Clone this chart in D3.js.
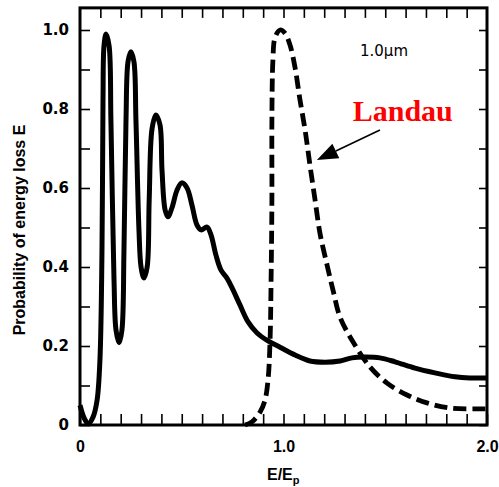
<!DOCTYPE html>
<html><head><meta charset="utf-8">
<script src="https://cdn.jsdelivr.net/npm/d3@7"></script>
<style>body{margin:0;background:#fff}svg{display:block}</style>
</head><body>
<script>
// Solid curve (measured energy-loss distribution, 1.0 µm)
const solidX = [0,0.02,0.04,0.064,0.084,0.098,0.108,0.113,0.118,0.128,0.143,0.152,0.167,0.177,0.192,0.206,0.216,0.226,0.236,0.25,0.265,0.275,0.29,0.30,0.314,0.33,0.34,0.354,0.373,0.393,0.403,0.418,0.432,0.452,0.477,0.50,0.526,0.55,0.575,0.595,0.624,0.644,0.668,0.693,0.722,0.752,0.786,0.826,0.87,0.924,0.983,1.057,1.13,1.204,1.278,1.337,1.40,1.474,1.548,1.646,1.744,1.843,1.916,2.0];
const solidY = [0.05,0.018,0.003,0.02,0.063,0.165,0.44,0.82,0.96,0.99,0.96,0.77,0.37,0.24,0.208,0.24,0.44,0.77,0.92,0.945,0.92,0.77,0.49,0.40,0.372,0.40,0.57,0.75,0.785,0.76,0.645,0.545,0.527,0.55,0.595,0.613,0.60,0.557,0.506,0.494,0.501,0.481,0.43,0.392,0.372,0.342,0.304,0.261,0.233,0.213,0.197,0.177,0.162,0.159,0.162,0.17,0.172,0.17,0.16,0.144,0.132,0.122,0.119,0.119];
// Dashed curve (Landau)
const landauX = [0.811,0.845,0.885,0.909,0.924,0.934,0.939,0.943,0.943,0.948,0.958,0.983,1.007,1.032,1.057,1.081,1.106,1.13,1.155,1.179,1.214,1.243,1.278,1.342,1.425,1.509,1.607,1.705,1.818,1.966,2.0];
const landauY = [0,0.008,0.033,0.063,0.114,0.215,0.367,0.57,0.772,0.924,0.98,1.0,0.992,0.962,0.904,0.823,0.747,0.658,0.57,0.486,0.405,0.342,0.273,0.21,0.147,0.106,0.076,0.056,0.043,0.041,0.041];
const xTicks = [0,0.1,0.2,0.3,0.4,0.5,0.6,0.7,0.8,0.9,1.0,1.1,1.2,1.3,1.4,1.5,1.6,1.7,1.8,1.9,2.0];
const xTickLabels = {"0":"0","1":"1.0","2":"2.0"};
const yTicks = [0,0.1,0.2,0.3,0.4,0.5,0.6,0.7,0.8,0.9,1.0];
const yTickLabels = {"0":"0","0.2":"0.2","0.4":"0.4","0.6":"0.6","0.8":"0.8","1":"1.0"};

const W = 499, H = 487;
const svg = d3.select("body").append("svg").attr("width", W).attr("height", H);
const x = d3.scaleLinear().domain([0, 2]).range([80, 487]);
const y = d3.scaleLinear().domain([0, 1]).range([425, 30]);
const yTop = 1.056;
const font = "'Liberation Sans', Arial, Helvetica, sans-serif";
const wide = "'DejaVu Sans', Verdana, sans-serif";

// axes
const fmtX = v => xTickLabels[String(+v.toFixed(1))] || "";
const fmtY = v => yTickLabels[String(+v.toFixed(1))] || "";
const gB = svg.append("g").attr("transform", `translate(0,${y(0)})`)
  .call(d3.axisBottom(x).tickValues(xTicks).tickSizeInner(-11).tickSizeOuter(0).tickPadding(16).tickFormat(fmtX));
const gL = svg.append("g").attr("transform", `translate(${x(0)},0)`)
  .call(d3.axisLeft(y).tickValues(yTicks).tickSizeInner(-10).tickSizeOuter(0).tickPadding(11).tickFormat(fmtY));
const gT = svg.append("g").attr("transform", `translate(0,${y(yTop)})`)
  .call(d3.axisTop(x).tickValues(xTicks.slice(1, -1)).tickSizeInner(-10).tickSizeOuter(0).tickFormat(""));
const gR = svg.append("g").attr("transform", `translate(${x(2)},0)`)
  .call(d3.axisRight(y).tickValues(yTicks).tickSizeInner(-8).tickSizeOuter(0).tickFormat(""));
[gB, gL, gT, gR].forEach(g => {
  g.select(".domain").remove();
  g.selectAll(".tick line").attr("stroke", "#000").attr("stroke-width", 1.6);
  g.selectAll("text").attr("font-family", font).attr("font-weight", "bold").attr("font-size", 16).attr("fill", "#000");
});
gL.selectAll("text").attr("font-family", wide).attr("font-size", 15);

// frame
svg.append("rect").attr("x", x(0)).attr("y", y(yTop)).attr("width", x(2) - x(0)).attr("height", y(0) - y(yTop))
  .attr("fill", "none").attr("stroke", "#000").attr("stroke-width", 3);

// curves
const line = d3.line().x(d => x(d[0])).y(d => y(d[1])).curve(d3.curveCatmullRom.alpha(0.5));
svg.append("path").datum(solidX.map((v, i) => [v, solidY[i]])).attr("d", line)
  .attr("fill", "none").attr("stroke", "#000").attr("stroke-width", 5).attr("stroke-linejoin", "round");
svg.append("path").datum(landauX.map((v, i) => [v, landauY[i]])).attr("d", line)
  .attr("fill", "none").attr("stroke", "#000").attr("stroke-width", 4.8).attr("stroke-dasharray", "13,6");

// labels
svg.append("text").attr("transform", "translate(25,230) rotate(-90)").attr("text-anchor", "middle")
  .attr("font-family", font).attr("font-weight", "bold").attr("font-size", 16).text("Probability of energy loss E");
const xl = svg.append("text").attr("x", 267).attr("y", 480).attr("font-family", font).attr("font-weight", "bold").attr("font-size", 16);
xl.append("tspan").text("E/E");
xl.append("tspan").attr("font-size", 11).attr("dy", 4).text("p");

svg.append("text").attr("x", x(1.376)).attr("y", 56).attr("font-family", wide).attr("font-size", 15).text("1.0µm");
svg.append("text").attr("x", x(1.34)).attr("y", 121).attr("font-family", "'Liberation Serif', 'Times New Roman', serif")
  .attr("font-weight", "bold").attr("font-size", 30).attr("fill", "#ff0000").text("Landau");

// arrow
const a0 = [x(1.474), y(0.747)], tip = [x(1.164), y(0.671)];
const dx = tip[0] - a0[0], dy = tip[1] - a0[1], L = Math.hypot(dx, dy), ux = dx / L, uy = dy / L;
const hl = 21, hw = 8;
const bc = [tip[0] - ux * hl, tip[1] - uy * hl];
svg.append("line").attr("x1", a0[0]).attr("y1", a0[1]).attr("x2", bc[0]).attr("y2", bc[1]).attr("stroke", "#000").attr("stroke-width", 1.6);
svg.append("polygon").attr("points", [tip, [bc[0] - uy * hw, bc[1] + ux * hw], [bc[0] + uy * hw, bc[1] - ux * hw]].map(p => p.join(",")).join(" "))
  .attr("fill", "#000");
</script>
</body></html>
